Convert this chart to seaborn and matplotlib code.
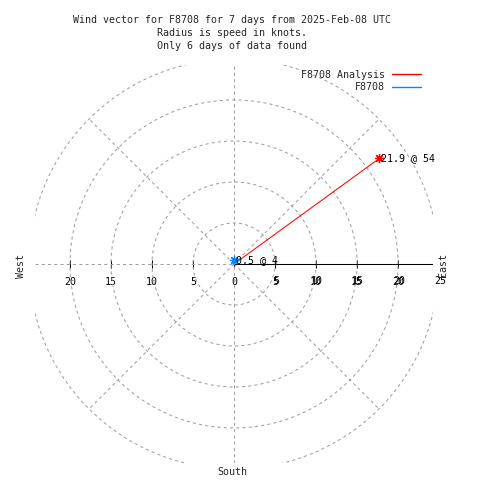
import numpy as np
import pandas as pd
import matplotlib
matplotlib.use("Agg")
import matplotlib.pyplot as plt
import matplotlib.transforms as mtransforms
from matplotlib.lines import Line2D
import seaborn as sns

# ---------------- data ----------------
title_lines = [
    "Wind vector for F8708 for 7 days from 2025-Feb-08 UTC",
    "Radius is speed in knots.",
    "Only 6 days of data found",
]
series = ["F8708 Analysis", "F8708"]
speed_kt = [21.9, 0.5]
direction_deg = [54, 4]
ring_radii = [5, 10, 15, 20, 25]
spoke_angles = [45, 135, 225, 315]
xtick_values = [-20, -15, -10, -5, 0, 5, 10, 15, 20]
rtick_values = [5, 10, 15, 20, 25]
compass_names = ["West", "East", "South"]

# ---------------- style ----------------
sns.set_theme(style="white")
plt.rcParams["font.family"] = ["DejaVu Sans Mono", "DejaVu Sans"]
FS = 7.2
colors = ["#ff0000", "#0088ff"]
GRID = "#a0a0a0"

W = H = 480
fig = plt.figure(figsize=(W / 100, H / 100), dpi=100)
fig.patch.set_facecolor("white")

CX, CY = 234, 264      # centre in pixels (from top)
PX = 8.2               # pixels per knot
HALF = 199             # half-size of the clip box in pixels
ax = fig.add_axes([(CX - HALF) / W, (H - CY - HALF) / H, 2 * HALF / W, 2 * HALF / H])
ax.set_facecolor("white")
for s in ax.spines.values():
    s.set_visible(False)

# ---------------- grid ----------------
grid_kw = dict(color=GRID, lw=0.75, dashes=(3, 3), zorder=1)
theta = np.linspace(0, 2 * np.pi, 1441)
for r in ring_radii:
    ax.plot(r * np.cos(theta), r * np.sin(theta), **grid_kw)
for a in spoke_angles:
    ar = np.radians(a)
    ax.plot([0, ring_radii[-1] * np.cos(ar)], [0, ring_radii[-1] * np.sin(ar)], **grid_kw)
ax.axhline(0, **grid_kw)
ax.axvline(0, **grid_kw)

# polar r axis
ax.plot([0, ring_radii[-1]], [0, 0], color="black", lw=0.75, zorder=2)

# ---------------- vectors ----------------
rows = []
for name, s, d in zip(series, speed_kt, direction_deg):
    rows.append({"series": name, "x": 0.0, "y": 0.0})
    rows.append({"series": name, "x": s * np.sin(np.radians(d)), "y": s * np.cos(np.radians(d))})
df = pd.DataFrame(rows)

for name, c in zip(series, colors):
    sns.lineplot(data=df[df["series"] == name], x="x", y="y", color=c, sort=False,
                 estimator=None, lw=0.75, marker=(8, 2, 0), markevery=[1],
                 markersize=6.5, mec=c, mew=0.9, ax=ax, legend=False, zorder=4)

for name, s, d in zip(series, speed_kt, direction_deg):
    tx, ty = s * np.sin(np.radians(d)), s * np.cos(np.radians(d))
    tr = mtransforms.offset_copy(ax.transData, fig=fig, x=1.5, y=0, units="dots")
    ax.text(tx, ty, f"{s:g} @ {d}", transform=tr, ha="left", va="center",
            fontsize=FS, color="black", zorder=5)

R = HALF / PX
ax.set_xlim(-R, R)
ax.set_ylim(-R, R)
ax.set_xlabel("")
ax.set_ylabel("")

# ---------------- ticks ----------------
ax.spines["bottom"].set_position(("data", 0))
ax.set_xticks(xtick_values, labels=[f"{abs(v)}" for v in xtick_values])
ax.set_yticks([])
ax.tick_params(axis="x", bottom=True, direction="inout", length=5.8, width=0.72,
               color="black", labelsize=FS, labelcolor="black", pad=6.3)
rtr = mtransforms.offset_copy(ax.transData, fig=fig, x=1.2, y=-16.5, units="dots")
for v in rtick_values:
    ax.text(v, 0, f"{v}", transform=rtr, ha="center", va="center", fontsize=FS,
            color="black", clip_on=False)

# ---------------- legend ----------------
handles = [Line2D([], [], color=c, lw=1.0) for c in colors]
ax.legend(handles, series, loc="upper right", bbox_to_anchor=(421 / W, 1 - 69.5 / H),
          bbox_transform=fig.transFigure, frameon=False, markerfirst=False,
          handlelength=2.9, handletextpad=0.7, labelspacing=0.25, borderpad=0,
          borderaxespad=0, fontsize=FS)

# ---------------- texts ----------------
for i, line in enumerate(title_lines):
    fig.text(232 / W, 1 - (20 + 13 * i) / H, line, ha="center", va="center", fontsize=FS)

compass_pos = {"West": (21, 265.5, 90), "East": (443, 265, 90), "South": (232, 472, 0)}
for name in compass_names:
    x, y, rot = compass_pos[name]
    fig.text(x / W, 1 - y / H, name, ha="center", va="center", rotation=rot, fontsize=FS)

fig.savefig("out.png", dpi=100, facecolor="white")
